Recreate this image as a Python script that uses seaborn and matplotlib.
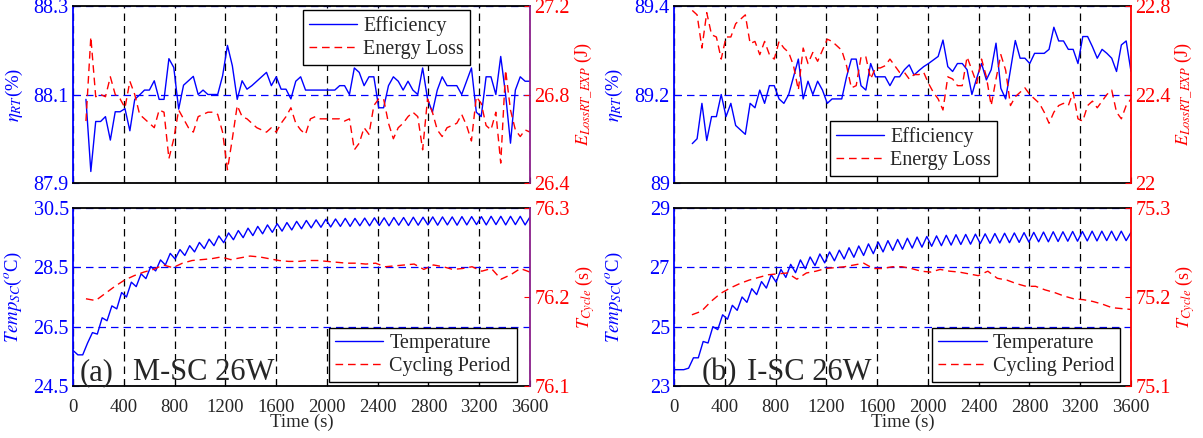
import numpy as np
import pandas as pd
import matplotlib
matplotlib.use("Agg")
import matplotlib.pyplot as plt
from matplotlib.ticker import FixedLocator, FixedFormatter
import seaborn as sns

# ---------------- data ----------------
# (a) M-SC 26W, top: round-trip efficiency (%) and energy loss (J)
eff_a = [88.089, 87.926, 88.039, 88.039, 88.05, 87.997, 88.061, 88.061, 88.068, 88.018,
         88.089, 88.099, 88.11, 88.11, 88.131, 88.089, 88.089, 88.181, 88.161, 88.067,
         88.121, 88.131, 88.141, 88.1, 88.11, 88.1, 88.1, 88.1, 88.142, 88.211,
         88.165, 88.089, 88.131, 88.112, 88.12, 88.13, 88.14, 88.15, 88.12, 88.14,
         88.112, 88.112, 88.09, 88.13, 88.14, 88.11, 88.11, 88.11, 88.11, 88.11,
         88.11, 88.11, 88.12, 88.12, 88.1, 88.16, 88.15, 88.12, 88.14, 88.14,
         88.07, 88.07, 88.12, 88.14, 88.13, 88.11, 88.13, 88.11, 88.1, 88.16,
         88.09, 88.06, 88.11, 88.14, 88.12, 88.12, 88.12, 88.1, 88.13, 88.16,
         88.06, 88.05, 88.14, 88.14, 88.1, 88.186, 88.1, 87.99, 88.11, 88.14,
         88.13, 88.13]
loss_a = [26.68, 27.06, 26.79, 26.80, 26.79, 26.88, 26.80, 26.78, 26.74, 26.86,
          26.80, 26.71, 26.69, 26.67, 26.65, 26.73, 26.72, 26.51, 26.60, 26.73,
          26.69, 26.65, 26.63, 26.70, 26.71, 26.72, 26.72, 26.71, 26.63, 26.46,
          26.60, 26.75, 26.70, 26.69, 26.67, 26.65, 26.64, 26.63, 26.65, 26.63,
          26.67, 26.70, 26.74, 26.67, 26.64, 26.62, 26.69, 26.70, 26.69, 26.69,
          26.69, 26.69, 26.69, 26.68, 26.69, 26.55, 26.58, 26.65, 26.62, 26.75,
          26.78, 26.78, 26.67, 26.60, 26.65, 26.67, 26.70, 26.72, 26.70, 26.55,
          26.78, 26.72, 26.64, 26.61, 26.65, 26.66, 26.67, 26.71, 26.66, 26.59,
          26.79, 26.76, 26.66, 26.64, 26.72, 26.49, 26.91, 26.73, 26.64, 26.61,
          26.64, 26.63]
t_top_a = np.linspace(102, 3600, len(eff_a))

# (b) I-SC 26W, top
eff_b = [89.089, 89.10, 89.18, 89.096, 89.15, 89.15, 89.20, 89.15, 89.18, 89.13,
         89.12, 89.11, 89.18, 89.17, 89.21, 89.18, 89.22, 89.22, 89.19, 89.18,
         89.20, 89.24, 89.28, 89.19, 89.23, 89.20, 89.23, 89.21, 89.18, 89.19,
         89.19, 89.19, 89.24, 89.28, 89.28, 89.22, 89.21, 89.27, 89.24, 89.24,
         89.24, 89.22, 89.24, 89.24, 89.256, 89.267, 89.244, 89.254, 89.263, 89.27,
         89.278, 89.286, 89.323, 89.263, 89.252, 89.27, 89.27, 89.256, 89.20, 89.237,
         89.27, 89.233, 89.256, 89.316, 89.214, 89.19, 89.256, 89.322, 89.282, 89.282,
         89.27, 89.293, 89.293, 89.293, 89.302, 89.352, 89.321, 89.321, 89.302, 89.302,
         89.27, 89.331, 89.331, 89.308, 89.282, 89.302, 89.293, 89.282, 89.252, 89.312,
         89.321, 89.252]
loss_b = [22.78, 22.76, 22.61, 22.77, 22.67, 22.66, 22.56, 22.66, 22.66, 22.72,
          22.74, 22.76, 22.63, 22.64, 22.58, 22.64, 22.58, 22.56, 22.64, 22.61,
          22.59, 22.53, 22.42, 22.61, 22.54, 22.59, 22.55, 22.60, 22.65, 22.64,
          22.62, 22.60, 22.53, 22.43, 22.44, 22.57, 22.57, 22.47, 22.52, 22.52,
          22.53, 22.56, 22.53, 22.50, 22.50, 22.47, 22.49, 22.49, 22.50, 22.45,
          22.41, 22.38, 22.33, 22.48, 22.47, 22.44, 22.44, 22.57, 22.51, 22.45,
          22.56, 22.48, 22.35, 22.47, 22.58, 22.51, 22.35, 22.39, 22.41, 22.43,
          22.40, 22.38, 22.36, 22.32, 22.27, 22.32, 22.35, 22.36, 22.35, 22.41,
          22.29, 22.28, 22.35, 22.37, 22.34, 22.37, 22.40, 22.42, 22.32, 22.29,
          22.35, 22.38]
t_top_b = np.linspace(144, 3600, len(eff_b))

# bottom: supercapacitor temperature (degC) and cycling period (s)
temp_a = [25.70, 25.55, 25.55, 25.95, 26.30, 26.25, 26.80, 26.70, 27.20, 27.10,
          27.65, 27.50, 28.00, 27.85, 28.28, 28.12, 28.53, 28.38, 28.75, 28.58,
          28.97, 28.78, 29.10, 28.90, 29.23, 29.02, 29.34, 29.13, 29.45, 29.23,
          29.56, 29.33, 29.66, 29.43, 29.74, 29.50, 29.82, 29.57, 29.88, 29.63,
          29.93, 29.68, 29.97, 29.72, 30.01, 29.76, 30.05, 29.80, 30.08, 29.83,
          30.10, 29.85, 30.12, 29.86, 30.13, 29.88, 30.15, 29.88, 30.15, 29.90,
          30.16, 29.90, 30.17, 29.91, 30.17, 29.90, 30.18, 29.92, 30.18, 29.91,
          30.19, 29.92, 30.19, 29.93, 30.20, 29.92, 30.20, 29.93, 30.20, 29.92,
          30.21, 29.93, 30.21, 29.94, 30.21, 29.93, 30.22, 29.94, 30.22, 29.93,
          30.22, 29.94, 30.22, 29.93, 30.20]
t_temp_a = np.linspace(0, 3600, len(temp_a))
cyc_a = [76.198, 76.196, 76.204, 76.212, 76.219, 76.224, 76.228, 76.231, 76.236, 76.233,
         76.238, 76.241, 76.242, 76.243, 76.245, 76.242, 76.244, 76.246, 76.245, 76.243,
         76.241, 76.240, 76.240, 76.241, 76.241, 76.240, 76.239, 76.238, 76.238, 76.237,
         76.238, 76.234, 76.235, 76.236, 76.237, 76.231, 76.236, 76.234, 76.231, 76.232,
         76.234, 76.229, 76.232, 76.220, 76.225, 76.232, 76.228]
t_cyc_a = np.linspace(102, 3600, len(cyc_a))

temp_b = [23.55, 23.55, 23.55, 23.60, 23.95, 23.95, 24.50, 24.45, 25.00, 24.90,
          25.40, 25.25, 25.72, 25.55, 26.00, 25.82, 26.28, 26.08, 26.52, 26.30,
          26.75, 26.50, 26.93, 26.66, 27.10, 26.82, 27.25, 26.95, 27.35, 27.06,
          27.45, 27.15, 27.52, 27.22, 27.58, 27.28, 27.66, 27.34, 27.72, 27.40,
          27.79, 27.46, 27.85, 27.52, 27.90, 27.57, 27.94, 27.61, 27.98, 27.65,
          28.02, 27.68, 28.04, 27.71, 28.06, 27.73, 28.08, 27.75, 28.10, 27.77,
          28.11, 27.78, 28.12, 27.80, 28.13, 27.81, 28.14, 27.82, 28.15, 27.83,
          28.16, 27.84, 28.17, 27.85, 28.18, 27.86, 28.19, 27.86, 28.20, 27.87,
          28.20, 27.88, 28.21, 27.88, 28.21, 27.89, 28.22, 27.89, 28.22, 27.90,
          28.22, 27.90, 28.22, 27.90, 28.18]
t_temp_b = np.linspace(0, 3600, len(temp_b))
cyc_b = [75.180, 75.184, 75.195, 75.204, 75.210, 75.215, 75.219, 75.222, 75.225, 75.226,
         75.227, 75.220, 75.227, 75.229, 75.232, 75.233, 75.234, 75.236, 75.238, 75.232,
         75.232, 75.234, 75.234, 75.232, 75.229, 75.228, 75.231, 75.229, 75.228, 75.226,
         75.224, 75.229, 75.221, 75.219, 75.215, 75.212, 75.212, 75.208, 75.205, 75.201,
         75.198, 75.197, 75.195, 75.192, 75.188, 75.187, 75.186]
t_cyc_b = np.linspace(141, 3600, len(cyc_b))

x_ticks = [0, 400, 800, 1200, 1600, 2000, 2400, 2800, 3200, 3600]
yt_eff_a, ylab_eff_a = [87.9, 88.1, 88.3], ["87.9", "88.1", "88.3"]
yt_loss_a, ylab_loss_a = [26.4, 26.8, 27.2], ["26.4", "26.8", "27.2"]
yt_eff_b, ylab_eff_b = [89.0, 89.2, 89.4], ["89", "89.2", "89.4"]
yt_loss_b, ylab_loss_b = [22.0, 22.4, 22.8], ["22", "22.4", "22.8"]
yt_temp_a, ylab_temp_a = [24.5, 26.5, 28.5, 30.5], ["24.5", "26.5", "28.5", "30.5"]
yt_cyc_a, ylab_cyc_a = [76.1, 76.2, 76.3], ["76.1", "76.2", "76.3"]
yt_temp_b, ylab_temp_b = [23, 25, 27, 29], ["23", "25", "27", "29"]
yt_cyc_b, ylab_cyc_b = [75.1, 75.2, 75.3], ["75.1", "75.2", "75.3"]

# ---------------- style ----------------
sns.set_style("ticks")
plt.rcParams["font.family"] = ["Liberation Serif", "DejaVu Serif"]
plt.rcParams["mathtext.fontset"] = "stix"

BLUE = "#0000FF"
RED = "#FF0000"
DASH = (0, (5.5, 3.5))
GRID_DASH = (0, (6, 4))

fig = plt.figure(figsize=(12.03, 4.38), dpi=100)
FW, FH = 1203.0, 438.0


def make_axes(px_left, py_top, px_w, py_h):
    return fig.add_axes([px_left / FW, 1 - (py_top + py_h) / FH, px_w / FW, py_h / FH])


def panel(ax, t1, y1, t2, y2, lims1, ticks1, labs1, lims2, ticks2, labs2,
          ylab1, ylab2, names, leg_anchor, leg_loc, xlabels, right_spine_col,
          lab1_x, lab2_x):
    sns.lineplot(x=t1, y=y1, ax=ax, color=BLUE, lw=1.0, legend=False)
    ax2 = ax.twinx()
    sns.lineplot(x=t2, y=y2, ax=ax2, color=RED, lw=1.0, linestyle=DASH, legend=False)

    ax.set_xlim(0, 3600)
    ax.set_ylim(*lims1)
    ax2.set_ylim(*lims2)
    ax.xaxis.set_major_locator(FixedLocator(x_ticks))
    ax.yaxis.set_major_locator(FixedLocator(ticks1))
    ax.yaxis.set_major_formatter(FixedFormatter(labs1))
    ax2.yaxis.set_major_locator(FixedLocator(ticks2))
    ax2.yaxis.set_major_formatter(FixedFormatter(labs2))

    ax.xaxis.grid(True, color="black", linestyle=GRID_DASH, lw=0.9)
    ax.yaxis.grid(True, color=BLUE, linestyle=GRID_DASH, lw=0.9)

    ax.tick_params(axis="x", direction="in", length=4, labelsize=13.5, pad=9,
                   labelbottom=xlabels, color="black")
    ax.tick_params(axis="y", direction="in", length=4, labelsize=14.5,
                   colors=BLUE, pad=3)
    ax2.tick_params(axis="y", direction="in", length=4, labelsize=14.5,
                    colors=RED, pad=3)

    for s in ["top", "bottom"]:
        ax.spines[s].set_color("black")
        ax.spines[s].set_linewidth(1.3)
        ax2.spines[s].set_visible(False)
    ax.spines["left"].set_color(BLUE)
    ax.spines["left"].set_linewidth(1.3)
    ax.spines["right"].set_visible(False)
    ax2.spines["left"].set_visible(False)
    ax2.spines["right"].set_color(right_spine_col)
    ax2.spines["right"].set_linewidth(1.3)

    ax.set_ylabel(ylab1, color=BLUE, fontsize=13.5)
    ax.yaxis.set_label_coords(lab1_x, 0.5)
    ax2.set_ylabel(ylab2, color=RED, fontsize=13)
    ax2.yaxis.set_label_coords(lab2_x, 0.5)
    ax.set_xlabel("")
    ax2.set_xlabel("")

    h1 = ax.get_lines()[0]
    h2 = ax2.get_lines()[0]
    leg = ax2.legend([h1, h2], names, loc=leg_loc, bbox_to_anchor=leg_anchor,
                     fontsize=14.5, frameon=True, fancybox=False, framealpha=1,
                     edgecolor="black", handlelength=2.4, handletextpad=0.3,
                     borderpad=0.3, labelspacing=0.2, borderaxespad=0)
    leg.get_frame().set_linewidth(1.0)
    return ax2


# left column
axA1 = make_axes(73, 6, 457, 177)
axA2 = make_axes(73, 208, 457, 178)
# right column
axB1 = make_axes(674, 6, 457, 177)
axB2 = make_axes(674, 208, 457, 178)

PURPLE = "#8A1F8A"

panel(axA1, t_top_a, eff_a, t_top_a, loss_a, (87.9, 88.3), yt_eff_a, ylab_eff_a,
      (26.4, 27.2), yt_loss_a, ylab_loss_a,
      r"$\eta_{RT}$(%)", r"$E_{LossRT\_EXP}$ (J)", ["Efficiency", "Energy Loss"],
      (0.503, 0.977), "upper left", False, PURPLE, -0.105, 1.094)
panel(axA2, t_temp_a, temp_a, t_cyc_a, cyc_a, (24.5, 30.5), yt_temp_a, ylab_temp_a,
      (76.1, 76.3), yt_cyc_a, ylab_cyc_a,
      r"$Temp_{SC}$($^{o}$C)", r"$T_{Cycle}$ (s)", ["Temperature", "Cycling Period"],
      (0.560, 0.022), "lower left", True, PURPLE, -0.108, 1.094)
panel(axB1, t_top_b, eff_b, t_top_b, loss_b, (89.0, 89.4), yt_eff_b, ylab_eff_b,
      (22.0, 22.8), yt_loss_b, ylab_loss_b,
      r"$\eta_{RT}$(%)", r"$E_{LossRT\_EXP}$ (J)", ["Efficiency", "Energy Loss"],
      (0.341, 0.04), "lower left", False, RED, -0.107, 1.092)
panel(axB2, t_temp_b, temp_b, t_cyc_b, cyc_b, (23, 29), yt_temp_b, ylab_temp_b,
      (75.1, 75.3), yt_cyc_b, ylab_cyc_b,
      r"$Temp_{SC}$($^{o}$C)", r"$T_{Cycle}$ (s)", ["Temperature", "Cycling Period"],
      (0.565, 0.022), "lower left", True, RED, -0.107, 1.092)

for ax in (axA2, axB2):
    ax.set_xlabel("Time (s)", fontsize=13.5, labelpad=-1)

axA2.text(0.015, 0.035, "(a)", transform=axA2.transAxes, fontsize=22,
          ha="left", va="baseline", zorder=10)
axA2.text(0.131, 0.035, "M-SC 26W", transform=axA2.transAxes, fontsize=22,
          ha="left", va="baseline", zorder=10)
axB2.text(0.061, 0.035, "(b)", transform=axB2.transAxes, fontsize=22,
          ha="left", va="baseline", zorder=10)
axB2.text(0.159, 0.035, "I-SC 26W", transform=axB2.transAxes, fontsize=22,
          ha="left", va="baseline", zorder=10)

fig.savefig("out.png", dpi=100)
